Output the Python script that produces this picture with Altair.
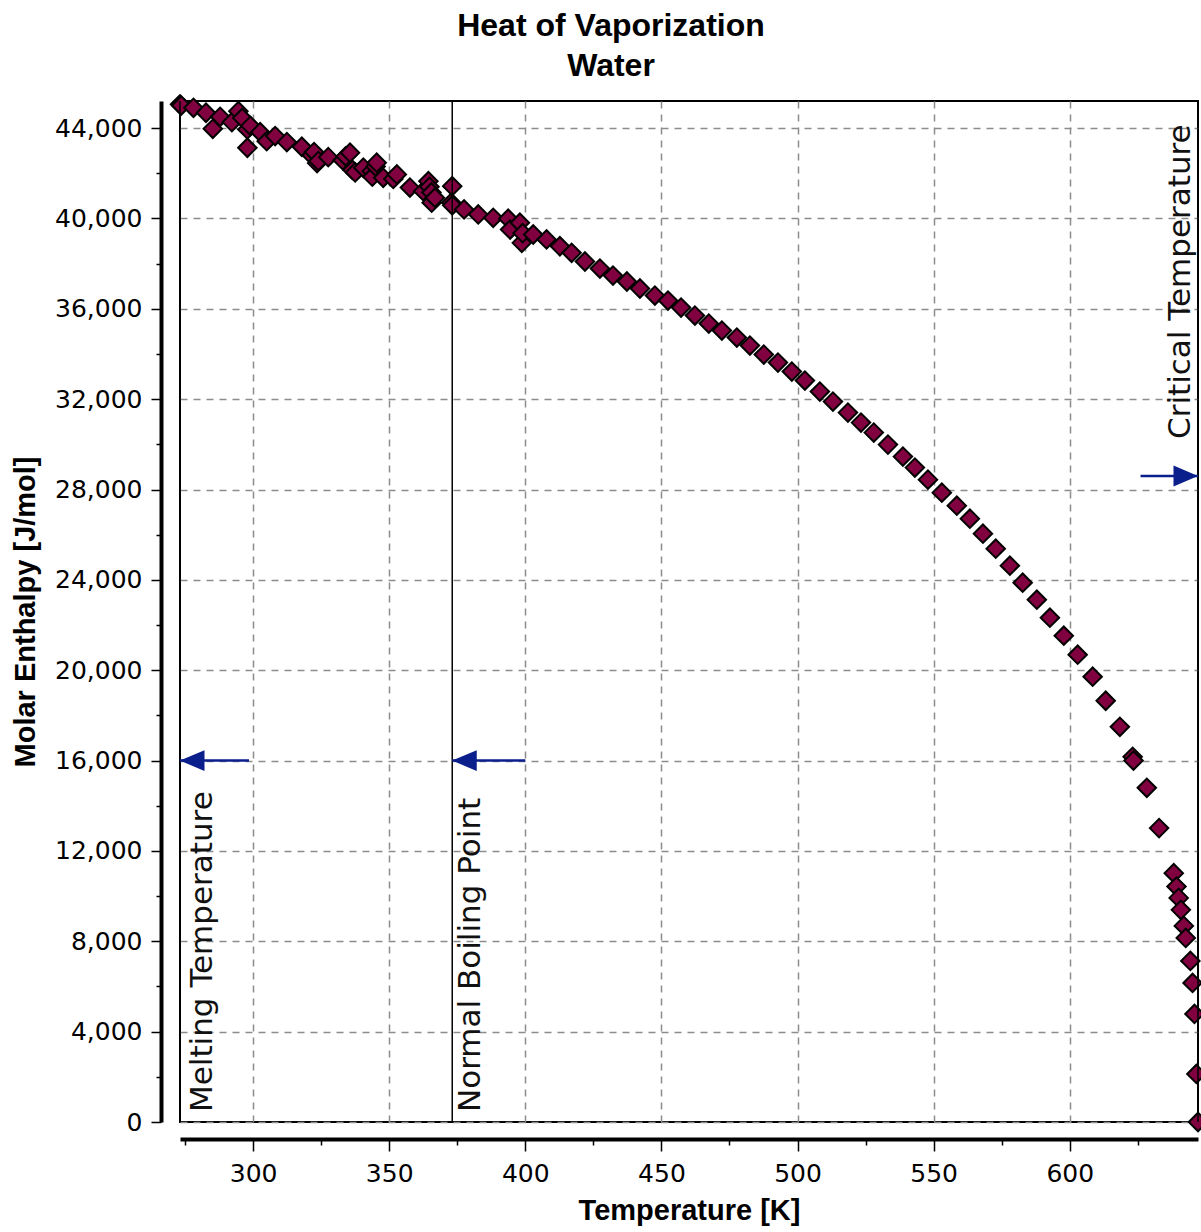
import altair as alt
import pandas as pd

# ---------------- data ----------------
# scattered (experimental) points, low temperature region
LOW_T = [273.16, 273.6, 278.1, 282.7, 285.2, 287.9, 292.2, 294.6, 296.0, 297.9,
         297.9, 299.0, 302.6, 305.0, 308.1, 312.4, 317.9, 321.5, 322.4, 323.5,
         324.0, 327.6, 332.9, 334.0, 335.6, 336.5, 337.5, 340.5, 343.6, 343.8,
         345.0, 345.4, 347.8, 351.5, 352.8, 357.6, 362.5, 364.4, 364.8, 365.5,
         365.6, 366.8, 372.8, 373.15, 373.15, 377.5, 382.7, 388.2, 393.7, 394.4,
         398.0, 398.7, 399.0, 402.9, 407.8, 412.7, 417.0]
LOW_H = [45054, 45000, 44900, 44680, 43970, 44500, 44265, 44750, 44450, 43940,
         43130, 44100, 43820, 43420, 43650, 43380, 43175, 42800, 42940, 42450,
         42540, 42715, 42580, 42750, 42910, 42150, 42040, 42245, 42095, 41850,
         42300, 42470, 41800, 41750, 41950, 41370, 41210, 41650, 41400, 41150,
         40700, 40920, 40700, 41430, 40580, 40400, 40180, 40030, 39990, 39510,
         39810, 38920, 39350, 39290, 39070, 38770, 38480]

# regular series up to the critical point
HIGH_T = [421.9, 427.4, 432.2, 437.3, 442.1, 447.6, 452.4, 457.2, 462.3, 467.4,
          472.2, 477.7, 482.5, 487.6, 492.8, 497.9, 502.7, 508.2, 513.0, 518.5,
          523.3, 528.0, 533.2, 538.7, 543.1, 547.9, 553.0, 558.5, 563.3, 568.1,
          572.8, 578.0, 582.7, 587.9, 592.7, 597.8, 602.9, 608.4, 613.2, 618.4,
          623.1, 623.4, 628.3, 632.8, 638.2, 639.2, 640.0, 640.8, 641.9, 642.6,
          644.3, 645.1, 645.8, 646.5, 647.1]
HIGH_H = [38095, 37784, 37474, 37209, 36899, 36588, 36367, 36057, 35703, 35348,
          35038, 34728, 34374, 33975, 33621, 33222, 32823, 32336, 31893, 31406,
          30963, 30520, 29988, 29457, 28970, 28438, 27862, 27286, 26710, 26046,
          25382, 24629, 23876, 23123, 22325, 21528, 20686, 19712, 18649, 17497,
          16168, 16000, 14795, 13010, 11016, 10423, 9922, 9391, 8682, 8150,
          7132, 6157, 4784, 2126, 0]

# reference temperatures
REF_LABELS = ["Melting Temperature", "Normal Boiling Point", "Critical Temperature"]
REF_T = [273.15, 373.15, 647.1]

# arrows: tip temperature, tail temperature, enthalpy level
ARROW_TIP_T = [273.15, 373.15, 647.1]
ARROW_TAIL_T = [298.5, 400.0, 626.0]
ARROW_H = [16000, 16000, 28600]

# axis ticks (major every 50 K / 4000 J/mol, minor every 12.5 K / 1000 J/mol)
X_TICKS = [275, 287.5, 300, 312.5, 325, 337.5, 350, 362.5, 375, 387.5, 400, 412.5,
           425, 437.5, 450, 462.5, 475, 487.5, 500, 512.5, 525, 537.5, 550, 562.5,
           575, 587.5, 600, 612.5, 625, 637.5]
Y_TICKS = list(range(0, 45001, 1000))

X_DOMAIN = [273.15, 647.1]
Y_DOMAIN = [0, 45200]

NAVY = "#0a1e8c"
MAROON = "#800040"

# ---------------- frames ----------------
pts = pd.DataFrame({"T": LOW_T + HIGH_T, "H": LOW_H + HIGH_H})
refs = pd.DataFrame({"T": REF_T, "label": REF_LABELS})
arrows = pd.DataFrame({"T": ARROW_TIP_T, "T2": ARROW_TAIL_T, "H": ARROW_H})
left_heads = arrows.iloc[:2]
right_heads = arrows.iloc[2:]
melt_txt = pd.DataFrame({"T": [REF_T[0]], "H": [0], "label": [REF_LABELS[0]]})
boil_txt = pd.DataFrame({"T": [REF_T[1]], "H": [0], "label": [REF_LABELS[1]]})
crit_txt = pd.DataFrame({"T": [REF_T[2]], "H": [ARROW_H[2]], "label": [REF_LABELS[2]]})

xs = alt.Scale(domain=X_DOMAIN, nice=False, zero=False)
ys = alt.Scale(domain=Y_DOMAIN, nice=False, zero=False)

XMAJ = "datum.value % 50 === 0"
YMAJ = "datum.value % 4000 === 0"

x_axis = alt.Axis(
    title="Temperature [K]",
    values=X_TICKS,
    labelExpr=f"{XMAJ} ? format(datum.value, 'd') : ''",
    tickSize={"condition": {"test": XMAJ, "value": 12}, "value": 6},
    gridOpacity={"condition": {"test": XMAJ, "value": 1}, "value": 0},
    grid=True,
    offset=17,
    labelPadding=10,
    titlePadding=10,
    labelOverlap=False,
    labelFlush=False,
)
y_axis = alt.Axis(
    title="Molar Enthalpy [J/mol]",
    values=Y_TICKS,
    labelExpr=f"{YMAJ} ? format(datum.value, ',') : ''",
    tickSize={"condition": {"test": YMAJ, "value": 10}, "value": 5},
    gridOpacity={"condition": {"test": YMAJ, "value": 1}, "value": 0},
    grid=True,
    offset=19,
    labelPadding=9,
    titlePadding=14,
    labelOverlap=False,
    labelFlush=False,
)


def X(field="T"):
    return alt.X(f"{field}:Q", scale=xs)


def Y(field="H"):
    return alt.Y(f"{field}:Q", scale=ys)


points = alt.Chart(pts).mark_point(
    shape="diamond", filled=True, color=MAROON, stroke="black",
    strokeWidth=2, size=340, opacity=1
).encode(x=alt.X("T:Q", scale=xs, axis=x_axis), y=alt.Y("H:Q", scale=ys, axis=y_axis))

vlines = alt.Chart(refs).mark_rule(color="black", strokeWidth=1.5).encode(x=X())

stems = alt.Chart(arrows).mark_rule(color=NAVY, strokeWidth=2.5).encode(
    x=X(), x2="T2:Q", y=Y()
)
lheads = alt.Chart(left_heads).mark_point(
    shape="M0,0L2,-0.85L2,0.85Z", filled=True, color=NAVY, size=600, opacity=1
).encode(x=X(), y=Y())
rheads = alt.Chart(right_heads).mark_point(
    shape="M0,0L-2,-0.85L-2,0.85Z", filled=True, color=NAVY, size=600, opacity=1
).encode(x=X(), y=Y())

txt_style = dict(angle=270, align="left", font="DejaVu Sans", fontSize=31, color="#111111")
melt = alt.Chart(melt_txt).mark_text(baseline="top", dx=10, dy=8, **txt_style).encode(
    x=X(), y=Y(), text="label:N")
boil = alt.Chart(boil_txt).mark_text(baseline="top", dx=10, dy=4, **txt_style).encode(
    x=X(), y=Y(), text="label:N")
crit = alt.Chart(crit_txt).mark_text(baseline="alphabetic", dx=37, dy=-8, **txt_style).encode(
    x=X(), y=Y(), text="label:N")

chart = alt.layer(points, vlines, stems, lheads, rheads, melt, boil, crit).properties(
    width=1018,
    height=1021,
    autosize=alt.AutoSizeParams(type="none"),
    padding={"left": 180, "top": 101, "right": 3, "bottom": 110},
    title=alt.Title(
        text=["Heat of Vaporization", "Water"],
        font="Liberation Sans",
        fontSize=32,
        fontWeight="bold",
        color="black",
        lineHeight=40,
        anchor="middle",
        dx=-78,
        offset=8,
    ),
).configure(background="white").configure_view(
    stroke="black", strokeWidth=2
).configure_axis(
    labelFont="DejaVu Sans",
    labelFontSize=25,
    labelColor="black",
    titleFont="Liberation Sans",
    titleFontSize=29,
    titleFontWeight="bold",
    titleColor="black",
    domainColor="black",
    domainWidth=4,
    tickColor="black",
    tickWidth=1.5,
    gridColor="#8c8c8c",
    gridDash=[7, 6],
    gridWidth=1.5,
)

chart.save("out.html", embed_options={"renderer": "svg", "actions": False})
